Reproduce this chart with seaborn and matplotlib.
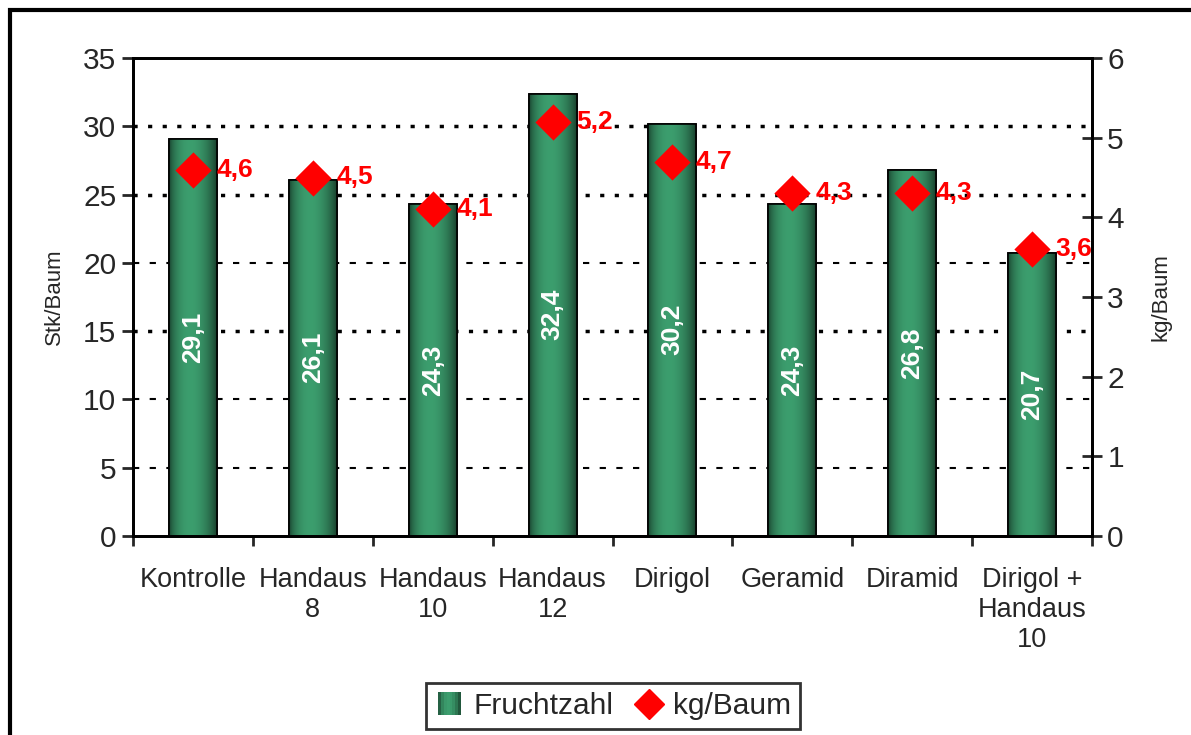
import numpy as np
import pandas as pd
import matplotlib
matplotlib.use("Agg")
import matplotlib.pyplot as plt
import seaborn as sns
from matplotlib.patches import Rectangle
from matplotlib.lines import Line2D
from matplotlib.legend_handler import HandlerBase

categories = ["Kontrolle", "Handaus\n8", "Handaus\n10", "Handaus\n12", "Dirigol",
              "Geramid", "Diramid", "Dirigol +\nHandaus\n10"]
fruchtzahl = [29.1, 26.1, 24.3, 32.4, 30.2, 24.3, 26.8, 20.7]
kg_baum = [4.6, 4.5, 4.1, 5.2, 4.7, 4.3, 4.3, 3.6]

sns.set_theme(style="white")
plt.rcParams['font.family'] = ['Liberation Sans', 'DejaVu Sans']

fig = plt.figure(figsize=(11.91, 7.35), dpi=100)
ax = fig.add_axes([133/1191, 1-536/735, (1092-133)/1191, (536-58)/735])

df = pd.DataFrame({"cat": categories, "val": fruchtzahl})
sns.barplot(data=df, x="cat", y="val", ax=ax, width=0.4, color="#2e7d55",
            edgecolor="black", linewidth=1.2, saturation=1, zorder=3)

# gradient fill
dark = np.array([0x16, 0x3a, 0x28]) / 255
light = np.array([0x3c, 0x9e, 0x6e]) / 255
t = np.linspace(0, 1, 128)
prof = np.clip(np.sin(np.pi * (t ** 0.85)), 0, 1) ** 0.7
grad = dark[None, :] + (light - dark)[None, :] * prof[:, None]
grad = grad[None, :, :]
for p in ax.patches:
    x0, w, h = p.get_x(), p.get_width(), p.get_height()
    im = ax.imshow(grad, extent=[x0, x0 + w, 0, h], aspect="auto", zorder=3.5,
                   interpolation="bilinear")
    im.set_clip_path(p)
    r = Rectangle((x0, 0), w, h, fill=False, edgecolor="black", lw=1.2, zorder=3.6)
    ax.add_patch(r)

for i, v in enumerate(fruchtzahl):
    ax.text(i, v / 2, f"{v:.1f}".replace(".", ","), rotation=90, ha="center",
            va="center", color="white", fontsize=19, fontweight="bold", zorder=5)

ax.set_xlim(-0.5, len(categories) - 0.5)
ax.set_ylim(0, 35)
ax.set_yticks(range(0, 36, 5))
ax.set_xlabel("")
ax.set_ylabel("Stk/Baum", fontsize=16, labelpad=13)
ax.tick_params(axis="y", labelsize=21.5, direction="out", length=8, width=2, pad=4, left=True)
ax.tick_params(axis="x", labelsize=19.5, length=0, pad=22)
ax.set_xticks(np.arange(-0.5, len(categories), 1), minor=True)
ax.tick_params(axis="x", which="minor", direction="out", length=7, width=2, bottom=True)
for sp in ax.spines.values():
    sp.set_color("black")
    sp.set_linewidth(2)

# grid lines
for y in [30, 25, 15]:
    ax.axhline(y, color="black", lw=2.5, linestyle=(0, (1.2, 3.0)), zorder=1)
for y in [20, 10, 5]:
    ax.axhline(y, color="black", lw=1.5, linestyle=(0, (3, 5)), zorder=1)

ax2 = ax.twinx()
ax2.set_ylim(0, 6)
ax2.set_yticks(range(0, 7))
sns.scatterplot(x=np.arange(len(kg_baum)), y=kg_baum, ax=ax2, marker="D", s=340,
                color="#ff0000", edgecolor="#ff0000", linewidth=0, zorder=6, legend=False)
for i, v in enumerate(kg_baum):
    ax2.annotate(f"{v:.1f}".replace(".", ","), (i, v), xytext=(17, 0),
                 textcoords="offset points", ha="left", va="center",
                 color="#ff0000", fontsize=19, fontweight="bold", zorder=7)
ax2.set_ylabel("kg/Baum", fontsize=16, labelpad=19)
ax2.tick_params(axis="y", labelsize=21.5, direction="inout", length=14, width=2, pad=4, right=True)
for sp in ax2.spines.values():
    sp.set_color("black")
    sp.set_linewidth(2)
ax2.grid(False)
ax.grid(False)


class GradHandler(HandlerBase):
    def create_artists(self, legend, orig_handle, xdescent, ydescent, width, height, fontsize, trans):
        arts = []
        n = 8
        s = height * 1.1
        x0 = xdescent + (width - s) / 2 - xdescent
        y0 = -ydescent + (height - s) / 2
        for k in range(n):
            c = grad[0, int((k + 0.5) / n * 127)]
            arts.append(Rectangle((x0 + k * s / n, y0), s / n + 0.2, s, facecolor=c,
                                  edgecolor="none", transform=trans))
        return arts


bar_handle = Rectangle((0, 0), 1, 1)
dia_handle = Line2D([], [], marker="D", color="#ff0000", linestyle="none", markersize=15)
leg = fig.legend([bar_handle, dia_handle], ["Fruchtzahl", "kg/Baum"],
                 handler_map={Rectangle: GradHandler()},
                 loc="center", bbox_to_anchor=(613/1191, 1-706/735), ncol=2,
                 fontsize=21.5, frameon=True, fancybox=False, edgecolor="black",
                 handlelength=1.0, handletextpad=0.3, columnspacing=0.7,
                 borderpad=0.3, borderaxespad=0)
leg.get_frame().set_linewidth(2)

# figure border
fig.add_artist(Rectangle((10/1191, -0.05), 1.05, 1.05 - 10/735, transform=fig.transFigure,
                         fill=False, edgecolor="black", lw=3))

fig.savefig("out.png", dpi=100, facecolor="white")
